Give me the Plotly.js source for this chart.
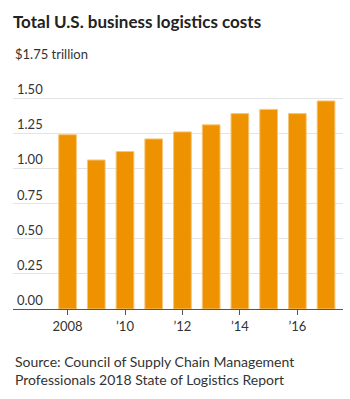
<!DOCTYPE html>
<html>
<head>
<meta charset="utf-8">
<script src="https://cdn.plot.ly/plotly-3.0.1.min.js"></script>
<style>html,body{margin:0;padding:0;background:#fff;}#chart{width:350px;height:399px;}</style>
</head>
<body>
<div id="chart"></div>
<script>
var years = [2008, 2009, 2010, 2011, 2012, 2013, 2014, 2015, 2016, 2017];
var costs = [1.24, 1.06, 1.12, 1.21, 1.26, 1.31, 1.39, 1.42, 1.39, 1.48];
var xTickVals = [2008, 2010, 2012, 2014, 2016];
var xTickText = ['2008', '\u201910', '\u201912', '\u201914', '\u201916'];
var yTickVals = [0, 0.25, 0.5, 0.75, 1.0, 1.25, 1.5, 1.75];
var yTickText = ['0.00', '0.25', '0.50', '0.75', '1.00', '1.25', '1.50', '$1.75'];
var yUnit = ' trillion';
var titleText = 'Total U.S. business logistics costs';
var sourceText = 'Source: Council of Supply Chain Management<br>Professionals 2018 State of Logistics Report';

var FONT = 'Lato, "Open Sans", sans-serif';
var annotations = [];
yTickVals.forEach(function (v, i) {
  var last = i === yTickVals.length - 1;
  annotations.push({
    xref: 'paper', yref: 'y', x: last ? 0.003 : 0.094, y: v,
    xanchor: last ? 'left' : 'right', yanchor: 'bottom',
    text: yTickText[i] + (last ? yUnit : ''), showarrow: false,
    font: {family: FONT, size: 13, color: '#333'}, borderpad: 0, yshift: 0
  });
});
annotations.push({
  xref: 'paper', yref: 'paper', x: 0.0, y: -0.172, xanchor: 'left', yanchor: 'top',
  align: 'left', text: sourceText, showarrow: false,
  font: {family: FONT, size: 14, color: '#333'}
});

var trace = {
  type: 'bar', x: years, y: costs,
  marker: {color: '#ee9200', line: {color: '#f6c57c', width: 1}},
  hoverinfo: 'none'
};

var layout = {
  width: 350, height: 399,
  margin: {l: 13, r: 7, t: 63, b: 90},
  paper_bgcolor: '#fff', plot_bgcolor: '#fff',
  bargap: 0.383,
  showlegend: false,
  title: {text: '<b>' + titleText + '</b>', font: {family: FONT, size: 17, color: '#222'},
          xref: 'container', yref: 'container', x: 0.037, xanchor: 'left', y: 0.945, yanchor: 'middle'},
  xaxis: {
    range: [2006.1, 2017.59], tickvals: xTickVals, ticktext: xTickText,
    ticks: 'outside', ticklen: 5, tickcolor: '#555', tickwidth: 1,
    showline: true, linecolor: '#555', linewidth: 1, showgrid: false, zeroline: false,
    tickfont: {family: FONT, size: 13, color: '#333'}, fixedrange: true
  },
  yaxis: {
    range: [0, 1.75], tickvals: yTickVals, showticklabels: false, ticks: '',
    showgrid: true, gridcolor: '#e4e4e4', gridwidth: 1, zeroline: false, fixedrange: true
  },
  annotations: annotations
};

Plotly.newPlot('chart', [trace], layout, {displayModeBar: false, staticPlot: true});
</script>
</body>
</html>
